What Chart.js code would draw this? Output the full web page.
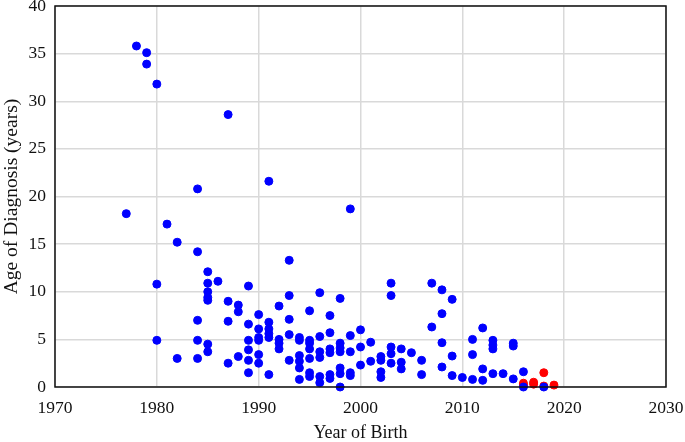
<!DOCTYPE html>
<html>
<head>
<meta charset="utf-8">
<script src="https://cdn.jsdelivr.net/npm/chart.js@4"></script>
<style>
html,body{margin:0;padding:0;background:#fff;}
#wrap{position:relative;width:685px;height:442px;}
</style>
</head>
<body>
<div id="wrap"><canvas id="c" width="685" height="442"></canvas></div>
<script>
const blueYears = [
1977,1978,1979,1979,
1980,1980,1980,1981,1982,1982,
1984,1984,1984,1984,1984,
1985,1985,1985,1985,1985,1985,1985,
1986,1987,1987,1987,1987,
1988,1988,1988,
1989,1989,1989,1989,1989,1989,
1990,1990,1990,1990,1990,1990,
1991,1991,1991,1991,1991,1991,
1992,1992,1992,1992,
1993,1993,1993,1993,1993,
1994,1994,1994,1994,1994,1994,
1995,1995,1995,1995,1995,1995,1995,
1996,1996,1996,1996,1996,1996,
1997,1997,1997,1997,1997,1997,
1998,1998,1998,1998,1998,1998,1998,
1999,1999,1999,1999,1999,
2000,2000,2000,
2001,2001,
2002,2002,2002,2002,
2003,2003,2003,2003,2003,
2004,2004,2004,
2005,
2006,2006,
2007,2007,
2008,2008,2008,2008,
2009,2009,2009,
2010,
2011,2011,2011,
2012,2012,2012,
2013,2013,2013,2013,
2014,
2015,2015,2015,
2016,2016,
2018
];
const blueAges = [
18.2,35.8,35.1,33.9,
31.8,10.8,4.9,17.1,15.2,3.0,
20.8,14.2,7.0,4.9,3.0,
12.1,10.9,10.0,9.4,9.1,4.5,3.7,
11.1,28.6,9.0,6.9,2.5,
8.6,7.9,3.2,
10.6,6.6,4.9,3.9,2.8,1.5,
7.6,6.1,5.2,4.9,3.4,2.5,
21.6,6.8,6.1,5.6,5.2,1.3,
8.5,5.0,4.6,4.0,
13.3,9.6,7.1,5.5,2.8,
5.2,4.9,3.3,2.7,2.0,0.8,
8.0,4.9,4.6,4.0,3.0,1.5,1.1,
9.9,5.3,3.7,3.1,1.1,0.45,
7.5,5.7,4.0,3.6,1.3,0.9,
9.3,4.6,4.1,3.7,2.0,1.4,0.0,
18.7,5.4,3.7,1.5,1.2,
6.0,4.2,2.3,
4.7,2.7,
3.2,2.8,1.6,1.0,
10.9,9.6,4.2,3.5,2.5,
4.0,2.6,1.9,
3.6,
2.8,1.3,
10.9,6.3,
10.2,7.7,4.65,2.1,
9.2,3.25,1.2,
1.0,
5.0,3.4,0.8,
6.2,1.9,0.7,
4.9,4.4,4.0,1.4,
1.4,
4.6,4.3,0.85,
1.6,0.0,
0.0
];
const redYears = [2016,2016,2017,2017,2018,2018,2019];
const redAges  = [0.4,0.2,0.5,0.3,1.5,0.1,0.2];

const xTicks = [1970,1980,1990,2000,2010,2020,2030];
const yTicks = [0,5,10,15,20,25,30,35,40];

const toPts = (xs, ys) => xs.map((x,i)=>({x:x, y:ys[i]}));

const boxPlugin = {
  id:'box',
  afterDatasetsDraw(chart){
    const a = chart.chartArea, ctx = chart.ctx;
    ctx.save();
    ctx.strokeStyle = '#111';
    ctx.lineWidth = 1.5;
    ctx.strokeRect(a.left, a.top, a.right - a.left, a.bottom - a.top);
    ctx.restore();
  }
};

const serif = "'Liberation Serif', 'Times New Roman', serif";

new Chart(document.getElementById('c'), {
  type:'scatter',
  data:{
    datasets:[
      {data:toPts(blueYears, blueAges), backgroundColor:'#0000ff', borderColor:'#0000ff', pointRadius:4, borderWidth:1, pointHoverRadius:4, clip:false},
      {data:toPts(redYears, redAges), backgroundColor:'#ff0000', borderColor:'#ff0000', pointRadius:4, borderWidth:1, pointHoverRadius:4, clip:false}
    ]
  },
  options:{
    responsive:false,
    animation:false,
    layout:{padding:{top:6, right:19, left:0, bottom:0}},
    plugins:{legend:{display:false}, tooltip:{enabled:false}},
    scales:{
      x:{
        type:'linear', min:1970, max:2030,
        afterBuildTicks(s){ s.ticks = xTicks.map(v=>({value:v})); },
        afterFit(s){ s.height = 55; s.paddingLeft = 0; s.paddingRight = 0; },
        grid:{color:'#d9d9d9', lineWidth:1.5, drawTicks:false},
        border:{display:false},
        ticks:{color:'#111', font:{family:serif, size:17.5}, padding:11, maxRotation:0, callback:v=>String(v)},
        title:{display:true, text:'Year of Birth', color:'#111', font:{family:serif, size:18}, padding:{top:0,bottom:-2}}
      },
      y:{
        type:'linear', min:0, max:40,
        afterBuildTicks(s){ s.ticks = yTicks.map(v=>({value:v})); },
        afterFit(s){ s.width = 55; s.paddingTop = 0; s.paddingBottom = 0; },
        grid:{color:'#d9d9d9', lineWidth:1.5, drawTicks:false},
        border:{display:false},
        ticks:{color:'#111', font:{family:serif, size:17.5}, padding:9, callback:v=>String(v)},
        title:{display:true, text:'Age of Diagnosis (years)', color:'#111', font:{family:serif, size:19.5}, padding:{top:0,bottom:0}}
      }
    }
  },
  plugins:[boxPlugin]
});
</script>
</body>
</html>
